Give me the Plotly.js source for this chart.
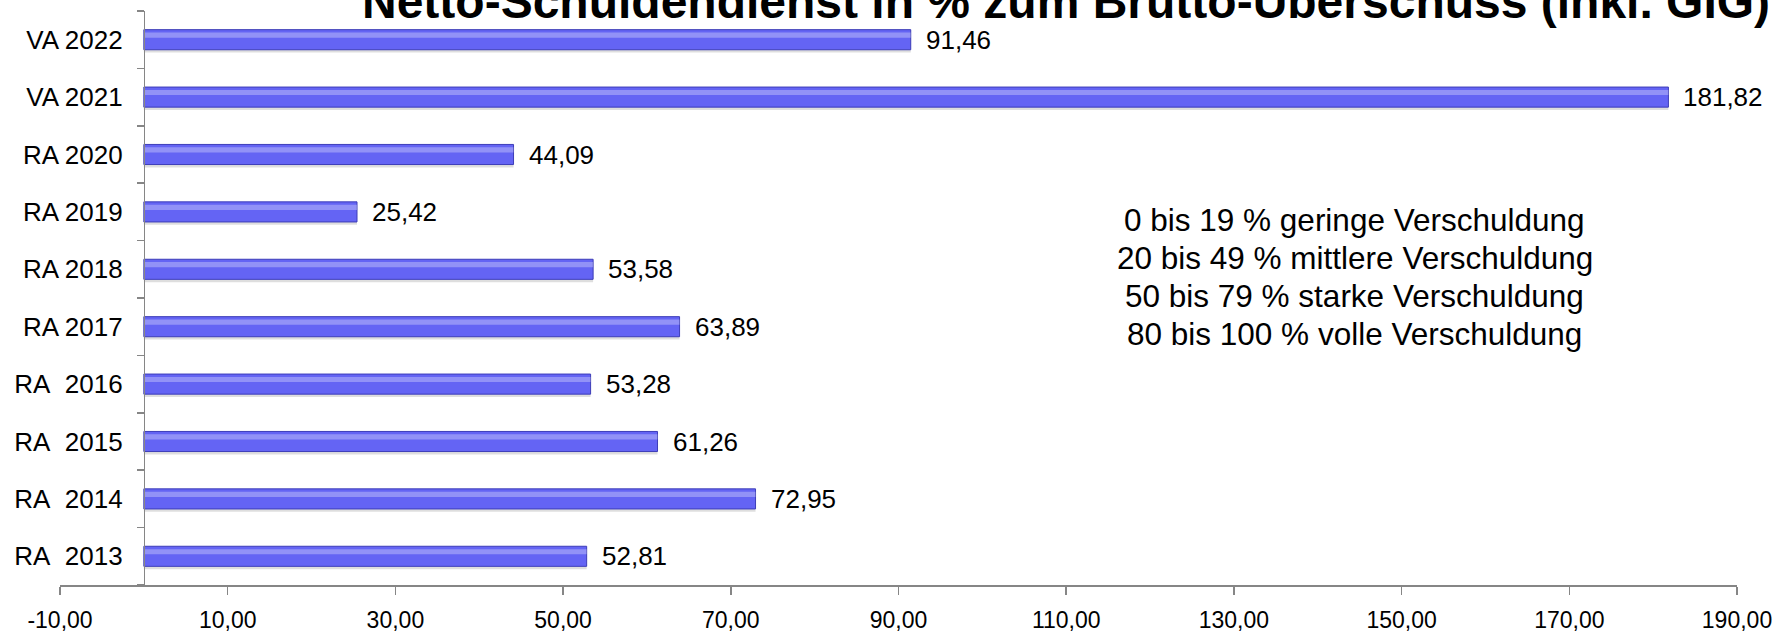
<!DOCTYPE html>
<html>
<head>
<meta charset="utf-8">
<script src="https://cdn.plot.ly/plotly-3.0.1.min.js"></script>
<style>
  html, body { margin: 0; padding: 0; background: #ffffff; }
  #chart { width: 1777px; height: 632px; }
</style>
</head>
<body>
<div id="chart"></div>
<script>
// ---- data ----
const categories = ['RA\u00a0 2013', 'RA\u00a0 2014', 'RA\u00a0 2015', 'RA\u00a0 2016', 'RA 2017', 'RA 2018', 'RA 2019', 'RA 2020', 'VA 2021', 'VA 2022'];
const values = [52.81, 72.95, 61.26, 53.28, 63.89, 53.58, 25.42, 44.09, 181.82, 91.46];
const xTickVals = [-10, 10, 30, 50, 70, 90, 110, 130, 150, 170, 190];
const xTickText = ['-10,00', '10,00', '30,00', '50,00', '70,00', '90,00', '110,00', '130,00', '150,00', '170,00', '190,00'];
const chartTitle = 'Netto-Schuldendienst in % zum Brutto-Überschuss (inkl. GIG)';
const noteLines = ['0 bis 19 % geringe Verschuldung', '20 bis 49 % mittlere Verschuldung', '50 bis 79 % starke Verschuldung', '80 bis 100 % volle Verschuldung'];

// ---- styling ----
const FONT = 'Liberation Sans, Arial, sans-serif';
const AXIS_GREY = '#868686';
const BAR_W = 0.35;

const fmt = v => v.toFixed(2).replace('.', ',');

const traces = [
  { // soft shadow
    type: 'bar', orientation: 'h', x: values, y: categories,
    width: BAR_W, offset: -BAR_W / 2 - 0.05,
    marker: { color: 'rgba(0,0,0,0.13)', line: { width: 0 } },
    hoverinfo: 'skip', showlegend: false
  },
  { // main bar
    type: 'bar', orientation: 'h', x: values, y: categories,
    width: BAR_W, offset: -BAR_W / 2,
    marker: { color: '#6464f4', line: { color: '#3d3db8', width: 1 } },
    showlegend: false
  },
  { // top highlight
    type: 'bar', orientation: 'h', x: values, y: categories,
    width: 0.09, offset: BAR_W / 2 - 0.14,
    marker: { color: 'rgba(255,255,255,0.3)', line: { width: 0 } },
    hoverinfo: 'skip', showlegend: false
  }
];

const annotations = [];
annotations.push({
  xref: 'paper', yref: 'paper', x: 0.5999, y: 1.0166,
  xanchor: 'center', yanchor: 'middle', showarrow: false,
  text: '<b>' + chartTitle + '</b>',
  font: { family: FONT, size: 48, color: '#000000' }
});
const noteY = [0.6359, 0.5697, 0.5035, 0.4373];
noteLines.forEach((t, i) => annotations.push({
  xref: 'paper', yref: 'paper', x: 0.7722, y: noteY[i],
  xanchor: 'center', yanchor: 'middle', showarrow: false,
  text: t, font: { family: FONT, size: 31.5, color: '#000000' }
}));
values.forEach((v, i) => annotations.push({
  xref: 'x', yref: 'y', x: v, y: categories[i],
  xanchor: 'left', yanchor: 'middle', xshift: 13, showarrow: false,
  text: fmt(v), font: { family: FONT, size: 26, color: '#000000' }
}));

const layout = {
  width: 1777, height: 632,
  margin: { l: 60, r: 40, t: 11, b: 47, pad: 0 },
  paper_bgcolor: '#ffffff', plot_bgcolor: '#ffffff',
  barmode: 'overlay',
  showlegend: false,
  font: { family: FONT, color: '#000000' },
  xaxis: {
    range: [-10, 190], domain: [0, 1],
    tickmode: 'array', tickvals: xTickVals, ticktext: xTickText,
    showline: true, linecolor: AXIS_GREY, linewidth: 1.5,
    ticks: 'outside', ticklen: 8, tickcolor: AXIS_GREY, tickwidth: 1.5,
    showgrid: false, zeroline: false,
    tickfont: { family: FONT, size: 23, color: '#000000' },
    ticklabelstandoff: 6,
    automargin: false, fixedrange: true
  },
  yaxis: {
    type: 'category', categoryorder: 'array', categoryarray: categories,
    anchor: 'free', position: 0.05,
    showline: true, linecolor: AXIS_GREY, linewidth: 1.5,
    ticks: 'outside', ticklen: 7, tickcolor: AXIS_GREY, tickwidth: 1.5,
    tickson: 'boundaries',
    showgrid: false, zeroline: false,
    tickfont: { family: FONT, size: 26, color: '#000000' },
    ticklabelstandoff: 16,
    automargin: false, fixedrange: true
  },
  bargap: 0.65,
  annotations: annotations
};

Plotly.newPlot('chart', traces, layout, { displayModeBar: false, staticPlot: true });
</script>
</body>
</html>
